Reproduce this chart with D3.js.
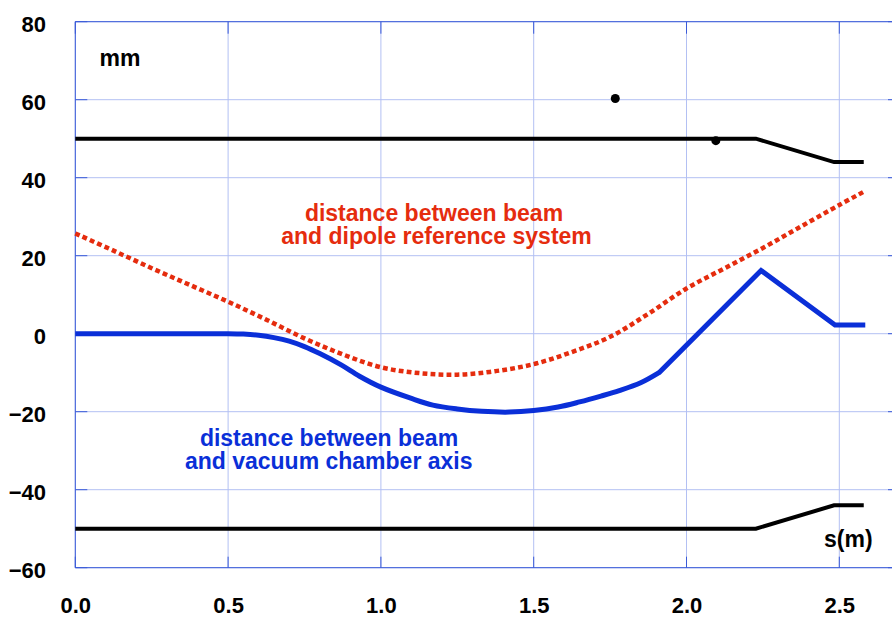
<!DOCTYPE html>
<html>
<head>
<meta charset="utf-8">
<script src="https://cdn.jsdelivr.net/npm/d3@7"></script>
<style>
  body { margin: 0; background: #fff; }
  svg { display: block; font-family: "Liberation Sans", Arial, sans-serif; font-weight: bold; }
  .tick-label { font-size: 22px; fill: #000; }
</style>
</head>
<body>
<div id="chart"></div>
<script>
// tick values
const xTicks = [0, 0.5, 1.0, 1.5, 2.0, 2.5];
const yTicks = [-60, -40, -20, 0, 20, 40, 60, 80];

// vacuum chamber walls (mm)
const wallS = [0, 2.227, 2.483, 2.58];
const wallTop = [50, 50, 44, 44];
const wallBottom = [-50, -50, -44, -44];

// beam vs dipole reference system (red dotted)
const redS = [0, 0.125, 0.25, 0.375, 0.5, 0.625, 0.75, 0.875, 1.0, 1.125, 1.25, 1.375, 1.5, 1.625, 1.75, 1.875, 2.0, 2.125, 2.25, 2.375, 2.5, 2.58];
const redV = [25.7, 21.3, 16.8, 12.5, 8.2, 3.6, -1.2, -5.3, -8.6, -10.1, -10.5, -9.6, -7.8, -4.7, -0.8, 5.1, 11.6, 16.8, 22.0, 27.5, 33.0, 36.4];

// beam vs vacuum chamber axis (blue): smooth part, then straight pieces
const blueS = [0, 0.25, 0.5, 0.55, 0.6, 0.65, 0.7, 0.75, 0.8, 0.87, 0.93, 1.0, 1.1, 1.17, 1.25, 1.33, 1.42, 1.5, 1.58, 1.65, 1.72, 1.78, 1.85, 1.91];
const blueV = [0, 0, 0, -0.1, -0.4, -1.0, -1.9, -3.3, -5.1, -8.0, -10.9, -13.7, -16.6, -18.3, -19.3, -19.9, -20.1, -19.7, -18.8, -17.5, -16.0, -14.6, -12.6, -10.0];
const blueTailS = [1.91, 2.244, 2.486, 2.585];
const blueTailV = [-10.0, 16.2, 2.2, 2.2];

// points above the wall
const dotS = [1.767, 2.096];
const dotV = [60.3, 49.5];

const w = 892, h = 619;
const pLeft = 75.3, pRight = 892, pTop = 21.7, pBottom = 567.7;

const xScale = d3.scaleLinear().domain([0, 2.5]).range([pLeft, 839.3]);
const yScale = d3.scaleLinear().domain([-60, 80]).range([pBottom, pTop]);

const svg = d3.select("#chart").append("svg")
    .attr("width", w)
    .attr("height", h);

// grid
svg.append("g").selectAll("line")
    .data(yTicks)
    .enter()
    .append("line")
    .attr("x1", pLeft).attr("x2", pRight)
    .attr("y1", d => yScale(d)).attr("y2", d => yScale(d))
    .style("stroke", "#b3c0f3")
    .style("stroke-width", 1);

svg.append("g").selectAll("line")
    .data(xTicks)
    .enter()
    .append("line")
    .attr("x1", d => xScale(d)).attr("x2", d => xScale(d))
    .attr("y1", pTop).attr("y2", pBottom)
    .style("stroke", "#b3c0f3")
    .style("stroke-width", 1);

// frame + inward ticks
const frameColor = "#3a5ad8";
svg.append("path")
    .attr("d", "M" + pRight + "," + pTop + "H" + pLeft + "V" + pBottom + "H" + pRight)
    .style("fill", "none")
    .style("stroke", frameColor)
    .style("stroke-width", 1);

let ticks = svg.append("g").style("stroke", frameColor).style("stroke-width", 1);
yTicks.forEach(function (d) {
    ticks.append("line").attr("x1", pLeft).attr("x2", pLeft + 12).attr("y1", yScale(d)).attr("y2", yScale(d));
    ticks.append("line").attr("x1", pRight - 4).attr("x2", pRight).attr("y1", yScale(d)).attr("y2", yScale(d));
});
xTicks.forEach(function (d) {
    ticks.append("line").attr("x1", xScale(d)).attr("x2", xScale(d)).attr("y1", pBottom).attr("y2", pBottom - 11);
    ticks.append("line").attr("x1", xScale(d)).attr("x2", xScale(d)).attr("y1", pTop).attr("y2", pTop + 12);
});

// axis labels via d3 axes
let yAxis = d3.axisLeft(yScale).tickValues(yTicks).tickSize(0).tickPadding(0).tickFormat(d3.format("d"));
let yg = svg.append("g").attr("transform", "translate(46,0)").call(yAxis);
yg.select(".domain").remove();
yg.selectAll("text").attr("class", "tick-label").attr("dy", "0.38em").attr("y", 1)
    .style("font-size", "22px");
yg.attr("font-family", null).attr("font-size", null);

let xAxis = d3.axisBottom(xScale).tickValues(xTicks).tickSize(0).tickPadding(0).tickFormat(d3.format(".1f"));
let xg = svg.append("g").attr("transform", "translate(0,597)").call(xAxis);
xg.select(".domain").remove();
xg.selectAll("text").attr("class", "tick-label").attr("dy", "0.71em")
    .style("font-size", "22px");
xg.attr("font-family", null).attr("font-size", null);

// walls
const straight = d3.line()
    .x(d => xScale(d[0]))
    .y(d => yScale(d[1]));

[wallTop, wallBottom].forEach(function (vals) {
    svg.append("path")
        .datum(wallS.map((s, i) => [s, vals[i]]))
        .attr("d", straight)
        .style("fill", "none")
        .style("stroke", "#000")
        .style("stroke-width", 4);
});

// blue curve
const smooth = d3.line()
    .x(d => xScale(d[0]))
    .y(d => yScale(d[1]))
    .curve(d3.curveCatmullRom.alpha(0.5));

let blueD = smooth(blueS.map((s, i) => [s, blueV[i]])) +
    straight(blueTailS.map((s, i) => [s, blueTailV[i]])).replace(/^M[^L]*/, "");

svg.append("path")
    .attr("d", blueD)
    .style("fill", "none")
    .style("stroke", "#0a2fd8")
    .style("stroke-width", 5)
    .style("stroke-linejoin", "miter");

// red dotted curve
svg.append("path")
    .datum(redS.map((s, i) => [s, redV[i]]))
    .attr("d", smooth)
    .style("fill", "none")
    .style("stroke", "#e52c0e")
    .style("stroke-width", 4.5)
    .style("stroke-dasharray", "4.8,3.2");

// dots
svg.selectAll("circle")
    .data(dotS.map((s, i) => [s, dotV[i]]))
    .enter()
    .append("circle")
    .attr("cx", d => xScale(d[0]))
    .attr("cy", d => yScale(d[1]))
    .attr("r", 4.5)
    .attr("fill", "#000");

// annotations
svg.append("text").attr("x", 99.5).attr("y", 65.5).style("font-size", "23px").text("mm");
svg.append("text").attr("x", 824).attr("y", 547).style("font-size", "23px").text("s(m)");

let redText = svg.append("text").style("font-size", "23px").style("fill", "#e52c0e").style("text-anchor", "middle");
redText.append("tspan").attr("x", 434).attr("y", 221.2).text("distance between beam");
redText.append("tspan").attr("x", 436.5).attr("y", 243.8).text("and dipole reference system");

let blueText = svg.append("text").style("font-size", "23px").style("fill", "#0a2fd8").style("text-anchor", "middle");
blueText.append("tspan").attr("x", 329).attr("y", 446.2).text("distance between beam");
blueText.append("tspan").attr("x", 328.7).attr("y", 468.8).text("and vacuum chamber axis");
</script>
</body>
</html>
